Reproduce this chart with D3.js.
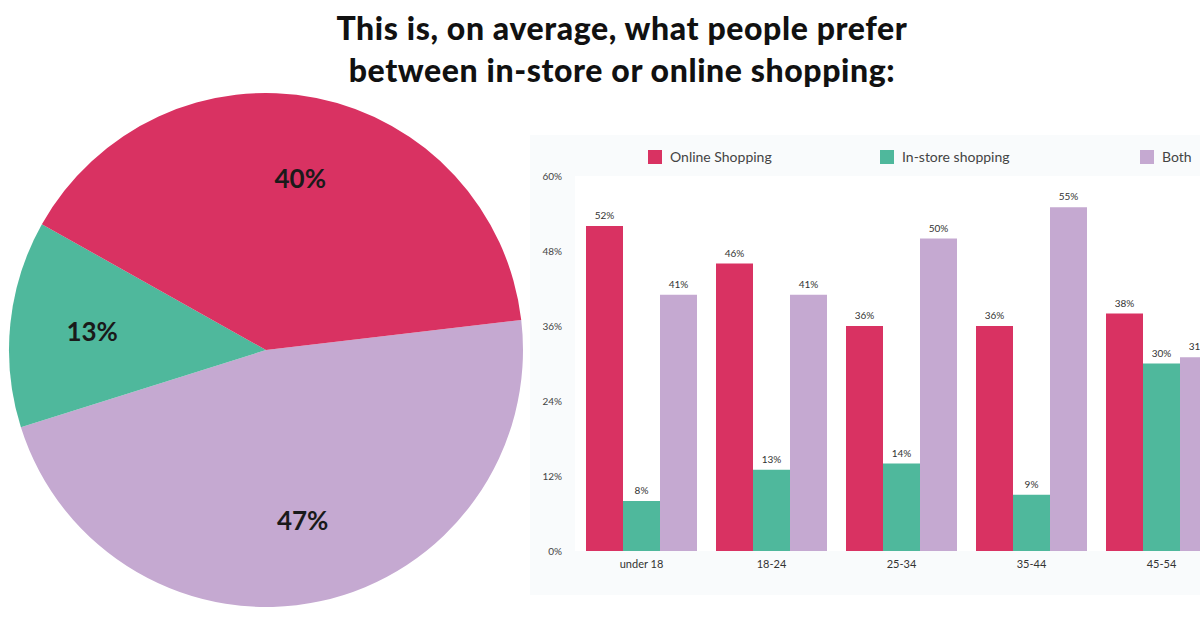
<!DOCTYPE html>
<html><head><meta charset="utf-8">
<script src="https://cdn.jsdelivr.net/npm/d3@7"></script>
<style>body{margin:0;background:#fff}svg{display:block}</style></head>
<body><svg id="c" width="1200" height="630"></svg>
<script>
const pieLabels=["Both","In-store shopping","Online Shopping"];
const pieValues=[47,13,40];
const pieColors=["#c5a9d1","#4fb89c","#d93262"];
const categories=["under 18","18-24","25-34","35-44","45-54"];
const seriesNames=["Online Shopping","In-store shopping","Both"];
const online=[52,46,36,36,38];
const instore=[8,13,14,9,30];
const both=[41,41,50,55,31];
const yTicks=[0,12,24,36,48,60];
const titleLines=["This is, on average, what people prefer","between in-store or online shopping:"];

const svg=d3.select("#c");
const F="Lato, 'Open Sans', sans-serif";
svg.selectAll("text.t").data(titleLines).join("text")
 .attr("x",622).attr("y",(d,i)=>40+i*42).attr("text-anchor","middle")
 .attr("font-family",F).attr("font-weight",900).attr("font-size",32).attr("letter-spacing",0.6).attr("fill","#111").text(d=>d);

const start=83.3*Math.PI/180;
const pie=d3.pie().sort(null).value(d=>d).startAngle(start).endAngle(start+2*Math.PI);
const arcs=pie(pieValues);
const R=257;
const arc=d3.arc().innerRadius(0).outerRadius(R);
const g=svg.append("g").attr("transform","translate(266,350)");
g.selectAll("path").data(arcs).join("path").attr("d",arc).attr("fill",(d,i)=>pieColors[i]);
const la=d3.arc().innerRadius(R*0.68).outerRadius(R*0.68);
g.selectAll("text").data(arcs).join("text")
 .attr("transform",d=>`translate(${la.centroid(d)})`).attr("dy","0.35em").attr("text-anchor","middle")
 .attr("font-family",F).attr("font-weight",700).attr("font-size",26).attr("fill","#1a1a1a")
 .text(d=>d.data+"%");

svg.append("rect").attr("x",530).attr("y",135).attr("width",670).attr("height",460).attr("fill","#f9fbfc");
const y=d3.scaleLinear().domain([0,60]).range([551,176]);
const x=d3.scaleBand().domain(categories).range([575,1228]).paddingInner(19/130).paddingOuter(11/130);
const xs=d3.scaleBand().domain(seriesNames).range([0,x.bandwidth()]);
svg.append("rect").attr("x",575).attr("y",176).attr("width",625).attr("height",375).attr("fill","#fff");
const yAx=svg.append("g").attr("transform","translate(565,0)")
 .call(d3.axisLeft(y).tickValues(yTicks).tickFormat(d=>d+"%").tickSize(0));
yAx.select(".domain").remove();
yAx.selectAll("text").attr("font-family",F).attr("font-size",10).attr("fill","#444");
const xAx=svg.append("g").attr("transform","translate(0,551)").call(d3.axisBottom(x).tickSize(0));
xAx.select(".domain").remove();
xAx.selectAll("text").attr("font-family",F).attr("font-size",11).attr("fill","#333").attr("dy","1.3em");
const series=[online,instore,both];
const cols=["#d93262","#4fb89c","#c5a9d1"];
series.forEach((vals,si)=>{
 const gg=svg.append("g");
 gg.selectAll("rect").data(vals).join("rect")
  .attr("x",(d,i)=>x(categories[i])+xs(seriesNames[si])).attr("width",xs.bandwidth())
  .attr("y",d=>y(d)).attr("height",d=>y(0)-y(d)).attr("fill",cols[si]);
 gg.selectAll("text").data(vals).join("text")
  .attr("x",(d,i)=>x(categories[i])+xs(seriesNames[si])+xs.bandwidth()/2).attr("y",d=>y(d)-7)
  .attr("text-anchor","middle").attr("font-family",F).attr("font-size",10).attr("fill","#333").text(d=>d+"%");
});
const lx=[648,880,1140];
seriesNames.forEach((n,i)=>{
 svg.append("rect").attr("x",lx[i]).attr("y",150).attr("width",14).attr("height",14).attr("fill",cols[i]);
 svg.append("text").attr("x",lx[i]+22).attr("y",162).attr("font-family",F).attr("font-size",14).attr("fill","#444").text(n);
});
</script></body></html>
